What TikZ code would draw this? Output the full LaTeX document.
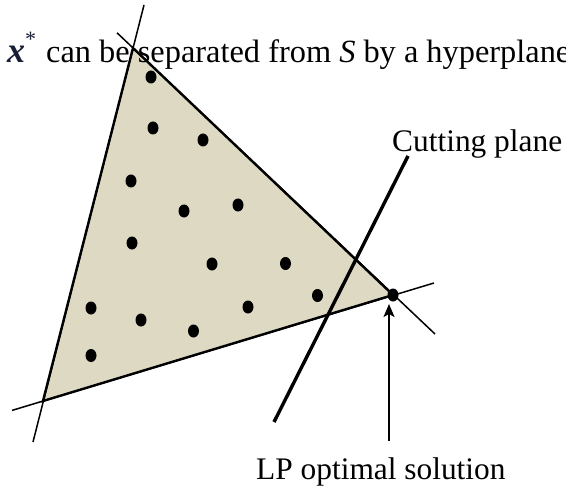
\documentclass[tikz,border=0pt]{standalone}
\usepackage{fontspec}
\setmainfont{Liberation Serif}
\usetikzlibrary{arrows.meta,shapes.geometric}
\definecolor{regionfill}{HTML}{DDD9C3}
\begin{document}
\begin{tikzpicture}[x=1bp,y=-1bp,
  pt/.style={ellipse,fill=black,inner sep=0pt,minimum width=11bp,minimum height=13bp},
  bound/.style={line width=1.5bp},
  edgeline/.style={line width=2.4bp,line join=miter},
  cutline/.style={line width=3.4bp},
  arr/.style={line width=2bp,-{Stealth[length=13bp,width=11bp,inset=3bp]}},
  lbl/.style={font=\fontsize{31.5}{36}\selectfont,inner sep=0pt},
  toplbl/.style={font=\fontsize{32.5}{38}\selectfont,inner sep=0pt}]
\useasboundingbox (0,0) rectangle (566,492);
\clip (0,0) rectangle (566,492);
% vertices
\coordinate (A) at (43,401);
\coordinate (B) at (133,48);
\coordinate (C) at (393,295);
% line extension end points
\coordinate (l1top) at (144,5);
\coordinate (l1bot) at (33,442);
\coordinate (l2top) at (117,32.8);
\coordinate (l2bot) at (435,334);
\coordinate (l3left) at (12,410.4);
\coordinate (l3right) at (434,283);
% feasible region
\fill[regionfill] (A) -- (B) -- (C) -- cycle;
\draw[edgeline] (A) -- (B) -- (C) -- cycle;
\draw[bound] (l1bot) -- (l1top);
\draw[bound] (l2top) -- (l2bot);
\draw[bound] (l3left) -- (l3right);
% integer points
\node[pt] (d1) at (151,77) {};
\node[pt] (d2) at (153,128) {};
\node[pt] (d3) at (203,140) {};
\node[pt] (d4) at (131,181) {};
\node[pt] (d5) at (184,211) {};
\node[pt] (d6) at (238,205) {};
\node[pt] (d7) at (132,243) {};
\node[pt] (d8) at (212,264) {};
\node[pt] (d9) at (285.5,263.5) {};
\node[pt] (d10) at (91,308) {};
\node[pt] (d11) at (141,320) {};
\node[pt] (d12) at (193.5,331) {};
\node[pt] (d13) at (248,307) {};
\node[pt] (d14) at (317.5,295.5) {};
\node[pt] (d15) at (91,355.5) {};
\node[pt] (lp) at (C) {};
% cutting plane
\coordinate (cuttop) at (408,156);
\coordinate (cutbot) at (274,422);
\draw[cutline] (cutbot) -- (cuttop);
% arrow
\coordinate (arrowfoot) at (389,441);
\coordinate (arrowtip) at (389,304);
\draw[arr] (arrowfoot) -- (arrowtip);
% texts
\node[font=\fontsize{36}{40}\selectfont,inner sep=0pt,anchor=base west,text={rgb,255:red,25;green,30;blue,55}] (xstar) at (7,62.7) {\textbf{\textit{x}}\raisebox{0.45em}{\fontsize{22}{24}\selectfont *}};
\node[toplbl,anchor=base west] (title) at (46,62.7) {can be separated from \textit{S} by a hyperplane};
\node[lbl,anchor=base west] (cutlabel) at (392,152) {Cutting plane};
\node[lbl,anchor=base west] (lplabel) at (256,479.3) {LP optimal solution};
\end{tikzpicture}
\end{document}
